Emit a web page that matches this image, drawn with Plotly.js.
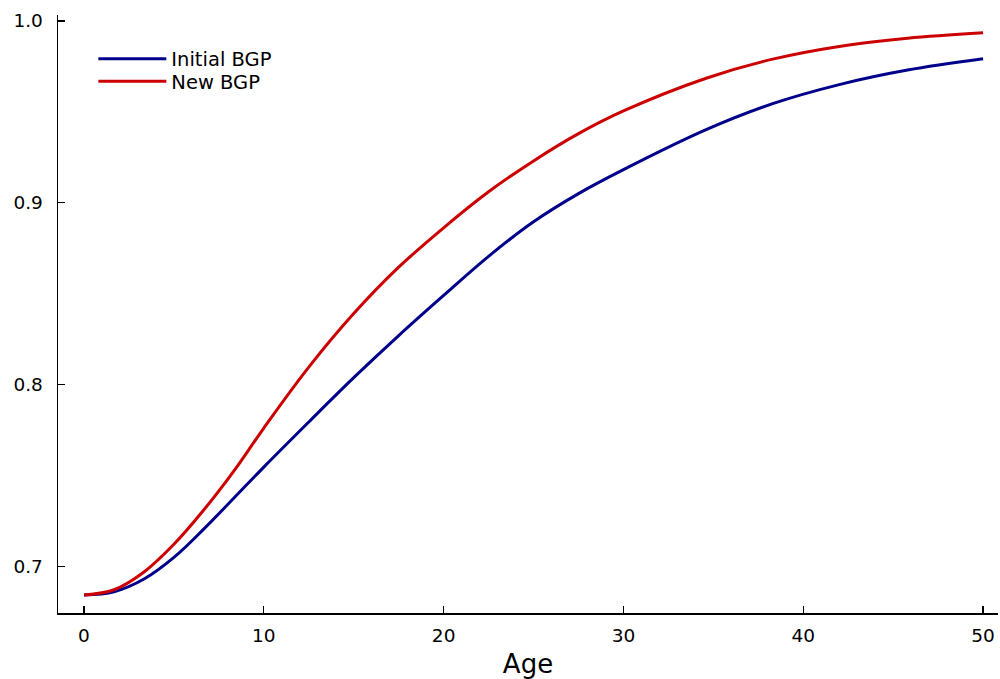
<!DOCTYPE html>
<html>
<head>
<meta charset="utf-8">
<script src="https://cdn.plot.ly/plotly-3.0.1.min.js"></script>
<style>html,body{margin:0;padding:0;background:#fff;}#chart{width:1000px;height:679px;}</style>
</head>
<body>
<div id="chart"></div>
<script>
// Values
const ages       = [0, 1.67, 3.34, 5, 6.67, 8.34, 10, 12.5, 15, 17.5, 20, 22.5, 25, 27.5, 30, 34.6, 38.3, 42, 45.8, 50];
const initialBGP = [0.6841, 0.6859, 0.6929, 0.7048, 0.7205, 0.7375, 0.7545, 0.7793, 0.8037, 0.8269, 0.8490, 0.8705, 0.8895, 0.9050, 0.9182, 0.9402, 0.9545, 0.9650, 0.9730, 0.9792];
const newBGP     = [0.6841, 0.6870, 0.6968, 0.7120, 0.7310, 0.7524, 0.7760, 0.8095, 0.8390, 0.8645, 0.8862, 0.9060, 0.9230, 0.9380, 0.9505, 0.9685, 0.9790, 0.9860, 0.9905, 0.9935];
const seriesNames = ["Initial BGP", "New BGP"];
const xTicks = [0, 10, 20, 30, 40, 50];
const yTicks = [0.7, 0.8, 0.9, 1.0];
const yTickText = ["0.7", "0.8", "0.9", "1.0"];

const FONT = "DejaVu Sans";

const traces = [
  {x: ages, y: initialBGP, name: seriesNames[0], mode: "lines", legend: "legend",
   line: {color: "#00008b", width: 3, shape: "spline", smoothing: 1}},
  {x: ages, y: newBGP, name: seriesNames[1], mode: "lines", legend: "legend2",
   line: {color: "#cc0000", width: 3, shape: "spline", smoothing: 1}}
];

const legendBase = {
  xanchor: "left", yanchor: "middle",
  bgcolor: "rgba(255,255,255,0)", borderwidth: 0,
  font: {family: FONT, size: 19.5, color: "#000"},
  itemwidth: 68
};

const layout = {
  width: 1000, height: 679,
  margin: {l: 58, r: 2, t: 15, b: 66},
  paper_bgcolor: "#fff", plot_bgcolor: "#fff",
  font: {family: FONT, size: 18.5, color: "#000"},
  showlegend: true,
  legend:  Object.assign({}, legendBase, {x: 0.0376, y: 0.9264}),
  legend2: Object.assign({}, legendBase, {x: 0.0376, y: 0.8885}),
  xaxis: {range: [-1.446, 50.83], tickvals: xTicks, ticktext: xTicks.map(String),
          ticks: "inside", ticklen: 7, tickwidth: 1.2, tickcolor: "#000",
          showline: true, linecolor: "#000", linewidth: 1.5, mirror: false,
          showgrid: false, zeroline: false, ticklabelstandoff: 5,
          tickfont: {family: FONT, size: 18.5, color: "#000"},
          title: {text: "Age", font: {family: FONT, size: 26, color: "#000"}, standoff: 12}},
  yaxis: {range: [0.6742, 1.0033], tickvals: yTicks, ticktext: yTickText,
          ticks: "inside", ticklen: 7, tickwidth: 1.2, tickcolor: "#000",
          showline: true, linecolor: "#000", linewidth: 1.5, mirror: false,
          showgrid: false, zeroline: false, ticklabelstandoff: 10,
          tickfont: {family: FONT, size: 18.5, color: "#000"}}
};

Plotly.newPlot("chart", traces, layout, {displayModeBar: false, staticPlot: true});
</script>
</body>
</html>
